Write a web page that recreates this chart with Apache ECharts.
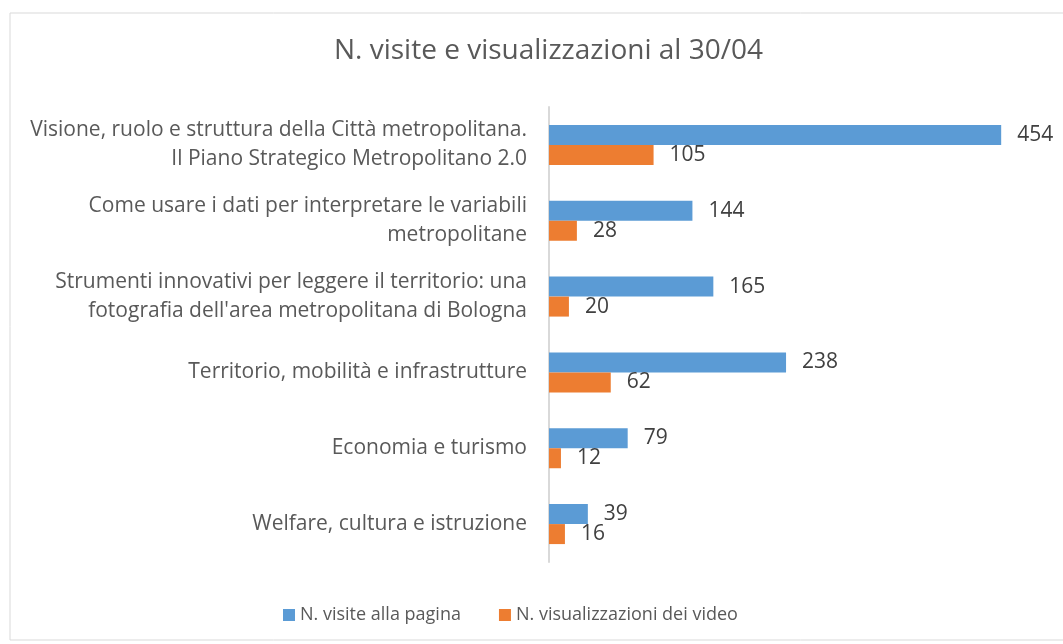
<!DOCTYPE html>
<html>
<head>
<meta charset="utf-8">
<script src="https://cdn.jsdelivr.net/npm/echarts@6/dist/echarts.min.js"></script>
<style>
  html, body { margin: 0; padding: 0; background: #fff; }
  #chart { width: 1063px; height: 644px; }
</style>
</head>
<body>
<div id="chart"></div>
<script>
// dati
const categories = [
  'Visione, ruolo e struttura della Città metropolitana.\nIl Piano Strategico Metropolitano 2.0',
  'Come usare i dati per interpretare le variabili\nmetropolitane',
  "Strumenti innovativi per leggere il territorio: una\nfotografia dell'area metropolitana di Bologna",
  'Territorio, mobilità e infrastrutture',
  'Economia e turismo',
  'Welfare, cultura e istruzione'
]
const visite = [454, 144, 165, 238, 79, 39]
const videoViews = [105, 28, 20, 62, 12, 16]
const seriesNames = ['N. visite alla pagina', 'N. visualizzazioni dei video']

const font = '"Open Sans", "DejaVu Sans", sans-serif'

const myChart = echarts.init(document.querySelector('#chart'))
const labelStyle = {
  show: true,
  position: 'right',
  distance: 16,
  color: '#404040',
  fontSize: 21,
  fontFamily: font
}
const option = {
  backgroundColor: '#fff',
  animation: false,
  title: {
    text: 'N. visite e visualizzazioni al 30/04',
    left: 329,
    top: 32,
    textStyle: { color: '#595959', fontSize: 28, fontWeight: 'normal', fontFamily: font }
  },
  graphic: [{
    type: 'rect',
    shape: { x: 10, y: 13, width: 1060, height: 627 },
    style: { fill: 'none', stroke: '#d9d9d9', lineWidth: 1 },
    silent: true
  }],
  legend: {
    bottom: 15,
    left: 278,
    itemWidth: 12,
    itemHeight: 12,
    itemGap: 38,
    icon: 'rect',
    textStyle: { color: '#595959', fontSize: 18, fontFamily: font },
    data: seriesNames
  },
  grid: { left: 549, right: 16, top: 107, bottom: 82 },
  xAxis: {
    type: 'value',
    min: 0,
    max: 500,
    show: false
  },
  yAxis: {
    type: 'category',
    inverse: true,
    data: categories,
    axisLine: { lineStyle: { color: '#d9d9d9', width: 2 } },
    axisTick: { show: false },
    axisLabel: {
      margin: 22,
      color: '#595959',
      fontSize: 21,
      lineHeight: 29,
      fontFamily: font,
      align: 'right'
    }
  },
  series: [{
    name: seriesNames[0],
    type: 'bar',
    data: visite,
    barWidth: 20,
    barGap: '0%',
    itemStyle: { color: '#5B9BD5' },
    label: labelStyle
  }, {
    name: seriesNames[1],
    type: 'bar',
    data: videoViews,
    barWidth: 20,
    itemStyle: { color: '#ED7D31' },
    label: labelStyle
  }]
}
myChart.setOption(option)
</script>
</body>
</html>
